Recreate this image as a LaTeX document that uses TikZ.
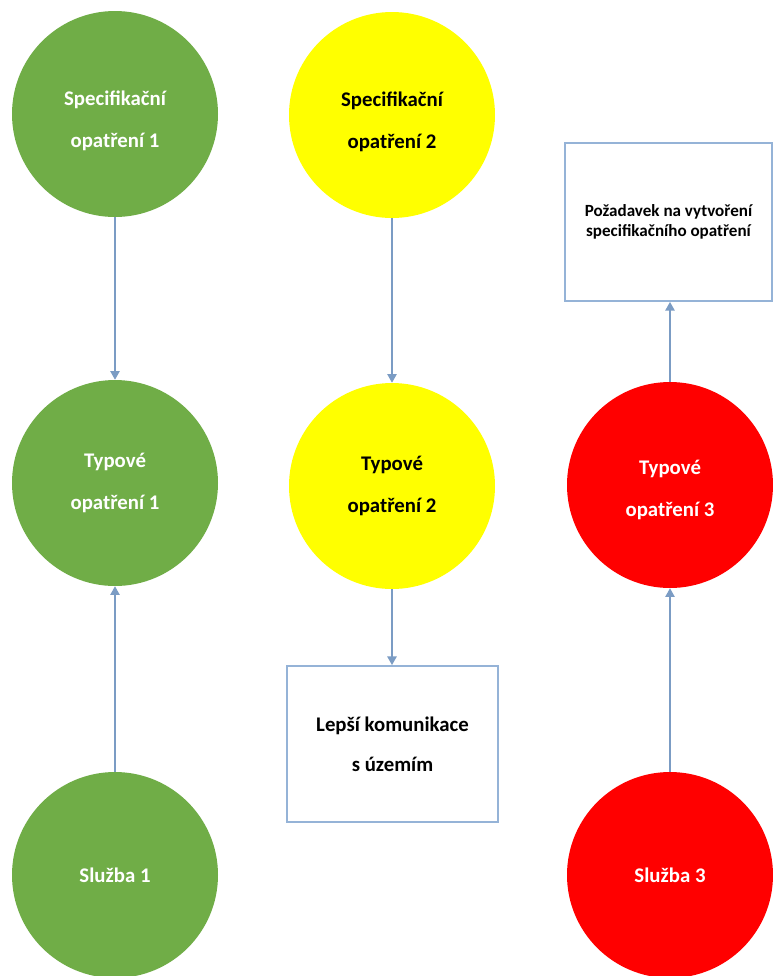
\documentclass[tikz,border=0pt]{standalone}
\usepackage{fontspec}
\setmainfont{Carlito}
\usetikzlibrary{arrows.meta}
\definecolor{cgreen}{HTML}{70AD47}
\definecolor{cyellow}{HTML}{FFFF00}
\definecolor{cred}{HTML}{FF0000}
\definecolor{carrow}{HTML}{7B9CC4}
\definecolor{cbox}{HTML}{95B3D7}
\begin{document}
\begin{tikzpicture}[x=0.75pt,y=-0.75pt,
  circ/.style={circle,minimum size=154.5pt,inner sep=0pt,align=center,
    font=\bfseries\fontsize{15.6}{31.5}\selectfont},
  greenc/.style={circ,fill=cgreen,text=white},
  yellowc/.style={circ,fill=cyellow,text=black},
  redc/.style={circ,fill=cred,text=white},
  boxn/.style={rectangle,draw=cbox,line width=1.4pt,fill=white,align=center,inner sep=0pt},
  conn/.style={draw=carrow,line width=1.1pt,-{Triangle[length=6.5pt,width=7pt]}}
]
\useasboundingbox (0,0) rectangle (773,976);
\fill[white] (0,0) rectangle (773,976);

\node[greenc] (s1) at (115,114) {\rule{0pt}{20.5pt}Specifikační\\opatření 1};
\node[yellowc] (s2) at (392,115) {\rule{0pt}{20.5pt}Specifikační\\opatření 2};
\node[greenc] (t1) at (115,483) {Typové\\opatření 1};
\node[yellowc] (t2) at (392,486) {Typové\\opatření 2};
\node[redc] (t3) at (670,485) {\rule{0pt}{17.5pt}Typové\\opatření 3};
\node[greenc] (sl1) at (115,875) {Služba 1};
\node[redc] (sl3) at (670,875) {Služba 3};

\node[boxn,minimum width=155.25pt,minimum height=118.5pt,
  font=\bfseries\fontsize{12.8}{14.5}\selectfont] (req) at (668.5,222)
  {Požadavek na vytvoření\\specifikačního opatření};
\node[boxn,minimum width=158.25pt,minimum height=117pt,
  font=\bfseries\fontsize{15.6}{30}\selectfont] (com) at (392.5,744)
  {Lepší komunikace\\s územím};

\draw[conn] (s1.south) -- (t1.north);
\draw[conn] (sl1.north) -- (t1.south);
\draw[conn] (s2.south) -- (t2.north);
\draw[conn] (t2.south) -- (t2.south |- com.north);
\draw[conn] (sl3.north) -- (t3.south);
\draw[conn] (t3.north) -- (t3.north |- req.south);
\end{tikzpicture}
\end{document}
